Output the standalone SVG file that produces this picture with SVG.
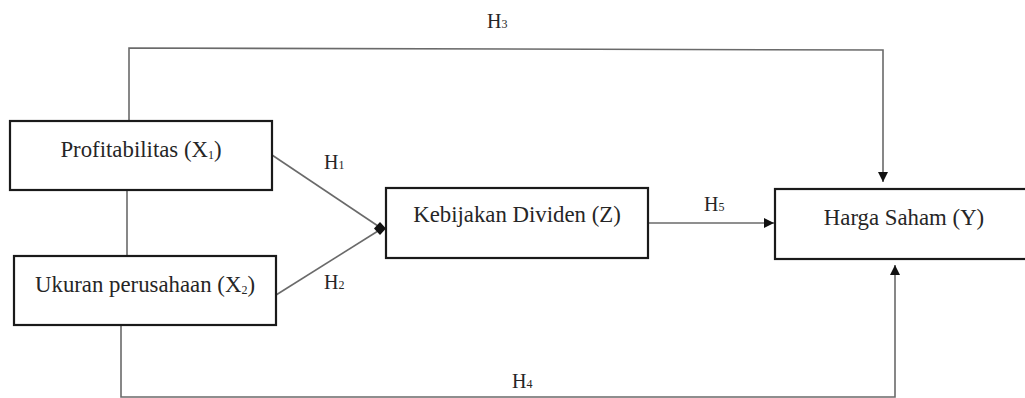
<svg xmlns="http://www.w3.org/2000/svg" width="1025" height="398" viewBox="0 0 1025 398">
<defs>
<marker id="arr" viewBox="0 0 10 10" refX="10" refY="5" markerWidth="10" markerHeight="10" markerUnits="userSpaceOnUse" orient="auto">
<path d="M0,0 L10,5 L0,10 z" fill="#111"/>
</marker>
</defs>
<style>
.box{fill:#fff;stroke:#1a1a1a;stroke-width:2.2}
.lbl{font-family:"Liberation Serif","Times New Roman",serif;font-size:22.8px;fill:#262626;text-anchor:middle}
.hl{font-family:"Liberation Serif","Times New Roman",serif;font-size:20px;fill:#262626}
.sub{font-size:12px}
.c{fill:none;stroke:#6a6a6a;stroke-width:1.6}
</style>
<rect width="1025" height="398" fill="#fff"/>
<g id="connectors">
<polyline class="c" points="129,121 129,48 883,50 883,182" marker-end="url(#arr)"/>
<line class="c" x1="127" y1="190" x2="127" y2="256"/>
<polyline class="c" points="121,325 121,397 895,397 895,265" marker-end="url(#arr)"/>
<line class="c" x1="272" y1="155" x2="378" y2="226"/>
<line class="c" x1="276" y1="295" x2="378" y2="231"/>
<polygon points="380,222 386,228.5 380,235 374,228.5" fill="#111"/>
<line class="c" x1="648" y1="223" x2="774" y2="223" marker-end="url(#arr)"/>
<text class="hl" x="487" y="28">H<tspan class="sub">3</tspan></text>
<text class="hl" x="324" y="169">H<tspan class="sub">1</tspan></text>
<text class="hl" x="324" y="289">H<tspan class="sub">2</tspan></text>
<text class="hl" x="704" y="211">H<tspan class="sub">5</tspan></text>
<text class="hl" x="512" y="388">H<tspan class="sub">4</tspan></text>
</g>
<g id="x1">
<rect class="box" x="10" y="121" width="262" height="69"/>
<text class="lbl" x="141" y="157">Profitabilitas (X<tspan class="sub" dy="2">1</tspan><tspan dy="-2">)</tspan></text>
</g>
<g id="x2">
<rect class="box" x="14" y="256" width="262" height="69"/>
<text class="lbl" x="145" y="292">Ukuran perusahaan (X<tspan class="sub" dy="2">2</tspan><tspan dy="-2">)</tspan></text>
</g>
<g id="z">
<rect class="box" x="386" y="188" width="262" height="70"/>
<text class="lbl" x="517" y="222">Kebijakan Dividen (Z)</text>
</g>
<g id="y">
<rect class="box" x="775" y="189" width="260" height="70"/>
<text class="lbl" x="904" y="225">Harga Saham (Y)</text>
</g>
</svg>
